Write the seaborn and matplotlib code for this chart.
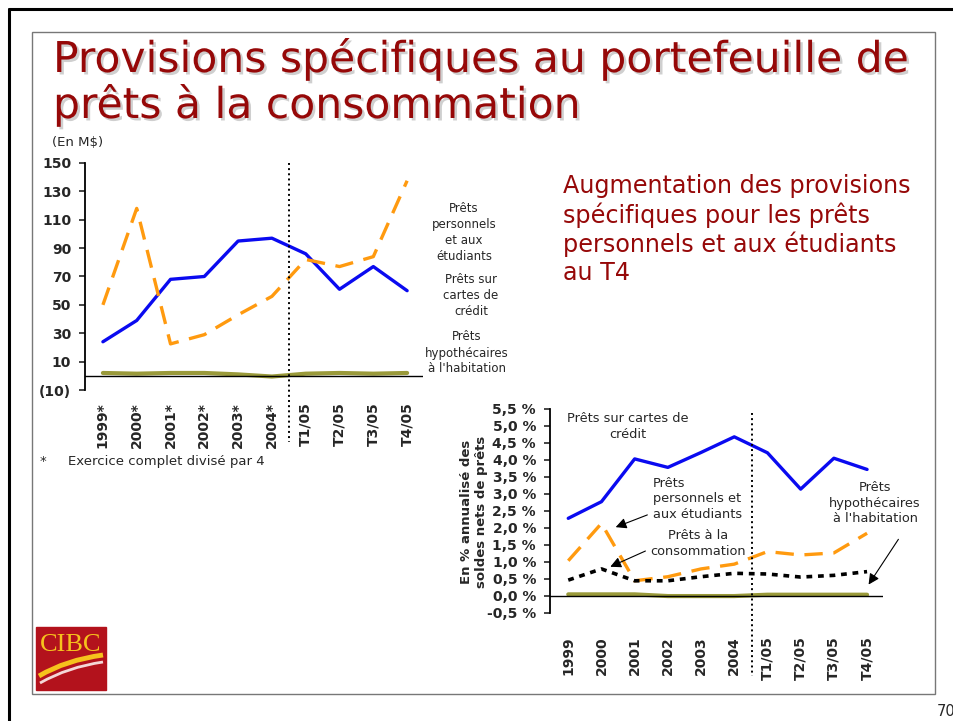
import numpy as np
import matplotlib
matplotlib.use("Agg")
import matplotlib.pyplot as plt
import matplotlib.patheffects as pe
from matplotlib.patches import Rectangle, PathPatch
from matplotlib.path import Path
import seaborn as sns

# donnees
periodes_m = ["1999*", "2000*", "2001*", "2002*", "2003*", "2004*", "T1/05", "T2/05", "T3/05", "T4/05"]
periodes_pct = ["1999", "2000", "2001", "2002", "2003", "2004", "T1/05", "T2/05", "T3/05", "T4/05"]

# provisions en M$
cartes_m = [24, 39, 68, 70, 95, 97, 86, 61, 77, 60]
perso_m = [50, 118, 22.5, 29, 43, 56, 82, 77, 84, 137.5]
hypo_m = [2, 1.5, 2, 2, 1, -0.5, 1.5, 2, 1.5, 2]

# en % annualise des soldes nets de prets
cartes_pct = [2.28, 2.77, 4.03, 3.78, 4.22, 4.68, 4.21, 3.14, 4.05, 3.72]
perso_pct = [1.03, 2.13, 0.44, 0.56, 0.79, 0.93, 1.30, 1.20, 1.26, 1.84]
conso_pct = [0.46, 0.79, 0.44, 0.44, 0.56, 0.66, 0.64, 0.55, 0.60, 0.71]
hypo_pct = [0.04, 0.04, 0.04, -0.01, -0.01, -0.01, 0.03, 0.03, 0.03, 0.03]

yticks_m = [-10, 10, 30, 50, 70, 90, 110, 130, 150]
ylabels_m = ["(10)", "10", "30", "50", "70", "90", "110", "130", "150"]
yticks_pct = [-0.5, 0.0, 0.5, 1.0, 1.5, 2.0, 2.5, 3.0, 3.5, 4.0, 4.5, 5.0, 5.5]
ylabels_pct = ["-0,5 %", "0,0 %", "0,5 %", "1,0 %", "1,5 %", "2,0 %", "2,5 %", "3,0 %",
               "3,5 %", "4,0 %", "4,5 %", "5,0 %", "5,5 %"]

BLUE = "#0A0AF0"
ORANGE = "#FF9A0F"
OLIVE = "#9A9A3A"
RED = "#960808"

sns.set_style("white")
plt.rcParams["font.family"] = ["DejaVu Sans"]

W, H = 954, 721
def fx(x):
    return x / W
def fy(y):
    return 1 - y / H

fig = plt.figure(figsize=(9.54, 7.21), dpi=100)

# cadres
fig.add_artist(plt.Line2D([fx(9), 1], [fy(9), fy(9)], color="black", lw=2.2))
fig.add_artist(plt.Line2D([fx(9), fx(9)], [fy(9), 0], color="black", lw=2.2))
fig.add_artist(Rectangle((fx(32), fy(694)), (935 - 32) / W, (694 - 32) / H, fill=False,
                         edgecolor="#777777", lw=1, transform=fig.transFigure))

# titre
shadow = [pe.withSimplePatchShadow(offset=(1.8, -1.8), shadow_rgbFace="#c4c4c4", alpha=0.8)]
fig.text(fx(53), fy(72), "Provisions spécifiques au portefeuille de", color=RED,
         fontsize=30.6, va="baseline", path_effects=shadow)
fig.text(fx(53), fy(118), "prêts à la consommation", color=RED,
         fontsize=30.6, va="baseline", path_effects=shadow)

for i, ligne in enumerate(["Augmentation des provisions", "spécifiques pour les prêts",
                           "personnels et aux étudiants", "au T4"]):
    fig.text(fx(563), fy(186 + 29 * i), ligne, color=RED, fontsize=17.2, va="center")

# graphique de gauche : M$
ax1 = fig.add_axes([fx(85), fy(390), (423 - 85) / W, (390 - 163) / H])
x = np.arange(len(periodes_m))
sns.lineplot(x=x, y=cartes_m, ax=ax1, color=BLUE, lw=2.4)
sns.lineplot(x=x, y=perso_m, ax=ax1, color=ORANGE, lw=2.4, linestyle=(0, (5.5, 3.2)))
sns.lineplot(x=x, y=hypo_m, ax=ax1, color=OLIVE, lw=3)
ax1.axhline(0, color="black", lw=1)
ax1.plot([5.5, 5.5], [150, -47], color="black", ls=":", lw=1.4, clip_on=False)
ax1.set_xlim(-0.53, 9.47)
ax1.set_ylim(-10, 150)
ax1.set_yticks(yticks_m)
ax1.set_yticklabels(ylabels_m, fontweight="bold", fontsize=10)
ax1.set_xticks(x)
ax1.set_xticklabels(periodes_m, rotation=90, fontweight="bold", fontsize=10)
ax1.tick_params(axis="x", length=0, pad=9)
ax1.tick_params(axis="y", length=4, width=1.2, pad=6, left=True)
for s in ["top", "right", "bottom"]:
    ax1.spines[s].set_visible(False)
ax1.spines["left"].set_linewidth(1.3)
ax1.spines["left"].set_color("black")

fig.text(fx(52), fy(143), "(En M$)", fontsize=9.5, va="center")
fig.text(fx(464), fy(232), "Prêts\npersonnels\net aux\nétudiants", fontsize=8.5,
         ha="center", va="center", multialignment="center", linespacing=1.3)
fig.text(fx(471), fy(295), "Prêts sur\ncartes de\ncrédit", fontsize=8.5,
         ha="center", va="center", multialignment="center", linespacing=1.3)
fig.text(fx(467), fy(353), "Prêts\nhypothécaires\nà l'habitation", fontsize=8.5,
         ha="center", va="center", multialignment="center", linespacing=1.3)
fig.text(fx(40), fy(461), "*", fontsize=9.5, va="center")
fig.text(fx(68), fy(461), "Exercice complet divisé par 4", fontsize=9.5, va="center")

# graphique de droite : %
ax2 = fig.add_axes([fx(550), fy(612.7), (883 - 550) / W, (612.7 - 409) / H])
x2 = np.arange(len(periodes_pct))
sns.lineplot(x=x2, y=cartes_pct, ax=ax2, color=BLUE, lw=2.4)
sns.lineplot(x=x2, y=perso_pct, ax=ax2, color=ORANGE, lw=2.4, linestyle=(0, (5.5, 3.2)))
sns.lineplot(x=x2, y=conso_pct, ax=ax2, color="black", lw=2.6, linestyle=(0, (1.6, 1.6)))
sns.lineplot(x=x2, y=hypo_pct, ax=ax2, color=OLIVE, lw=3)
ax2.axhline(0, color="black", lw=1)
ax2.plot([5.52, 5.52], [5.39, -2.36], color="black", ls=":", lw=1.4, clip_on=False)
ax2.set_xlim(-0.55, 9.48)
ax2.set_ylim(-0.5, 5.5)
ax2.set_yticks(yticks_pct)
ax2.set_yticklabels(ylabels_pct, fontweight="bold", fontsize=10)
ax2.set_xticks(x2)
ax2.set_xticklabels(periodes_pct, rotation=90, fontweight="bold", fontsize=10)
ax2.tick_params(axis="x", length=0, pad=17)
ax2.tick_params(axis="y", length=4, width=1.2, pad=6, left=True)
for s in ["top", "right", "bottom"]:
    ax2.spines[s].set_visible(False)
ax2.spines["left"].set_linewidth(1.3)
ax2.spines["left"].set_color("black")

fig.text(fx(474), fy(512), "En % annualisé des\nsoldes nets de prêts", fontsize=9.5,
         fontweight="bold", rotation=90, ha="center", va="center", multialignment="center")

ax2.text(1.8, 4.99, "Prêts sur cartes de\ncrédit", fontsize=9.3, ha="center", va="center",
         multialignment="center", linespacing=1.25)
fleche = dict(arrowstyle="-|>", color="black", lw=0.8, mutation_scale=16)
ax2.text(2.55, 2.85, "Prêts\npersonnels et\naux étudiants", fontsize=9.3, ha="left",
         va="center", linespacing=1.25)
ax2.annotate("", xy=(1.35, 1.99), xytext=(2.46, 2.41), arrowprops=fleche, annotation_clip=False)
ax2.text(3.9, 1.54, "Prêts à la\nconsommation", fontsize=9.3, ha="center", va="center",
         multialignment="center", linespacing=1.25)
ax2.annotate("", xy=(1.19, 0.82), xytext=(2.4, 1.35), arrowprops=fleche, annotation_clip=False)
ax2.text(9.24, 2.73, "Prêts\nhypothécaires\nà l'habitation", fontsize=9.3, ha="center",
         va="center", multialignment="center", linespacing=1.25, clip_on=False)
ax2.annotate("", xy=(9.0, 0.26), xytext=(9.99, 1.73), arrowprops=fleche, annotation_clip=False)

# logo CIBC
fig.add_artist(Rectangle((fx(36), fy(690)), 70 / W, 63 / H, color="#B3121C",
                         transform=fig.transFigure))
fig.text(fx(71), fy(645), "CIBC", color="#F6C21C", fontsize=19, family="Liberation Serif",
         ha="center", va="center")
for pts, col, lw in [([(39, 676), (66, 660), (103, 655)], "#F6C21C", 3.5),
                     ([(40, 683), (68, 667), (103, 662)], "#F4D7D7", 2.0)]:
    verts = [(fx(a), fy(b)) for a, b in pts]
    fig.add_artist(PathPatch(Path(verts, [Path.MOVETO, Path.CURVE3, Path.CURVE3]),
                             fill=False, edgecolor=col, lw=lw, transform=fig.transFigure))

fig.text(fx(937), fy(711), "70", fontsize=10.5, va="center")

fig.savefig("out.png", dpi=100)
